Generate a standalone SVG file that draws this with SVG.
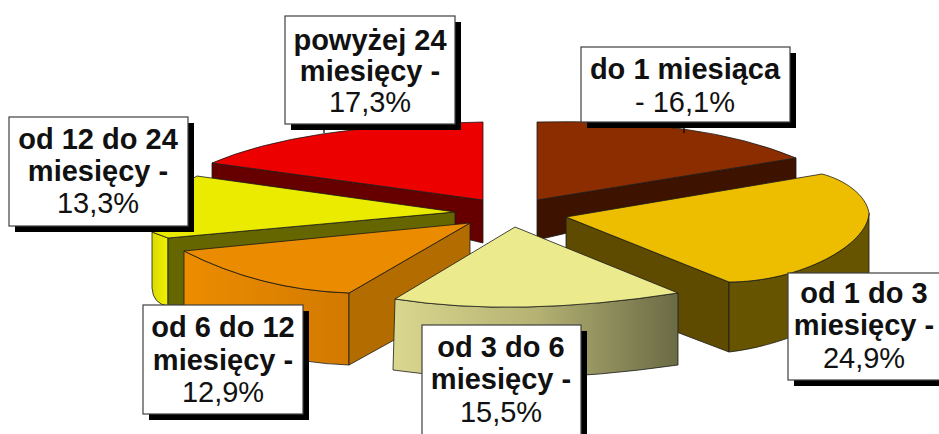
<svg xmlns="http://www.w3.org/2000/svg" width="939" height="434" viewBox="0 0 939 434">
<style>
.s{stroke:#1a1a1a;stroke-width:0.8;stroke-linejoin:round}
.box{fill:#fff;stroke:#404040;stroke-width:1.2}
.sh{fill:#000}
.b{font-family:"Liberation Sans",Arial,sans-serif;font-weight:bold;font-size:29px;fill:#111;text-anchor:middle}
.r{font-family:"Liberation Sans",Arial,sans-serif;font-size:29px;fill:#111;text-anchor:middle}
.lead{stroke:#000;stroke-width:1.2;fill:none}
</style>
<defs>
<linearGradient id="gLy" x1="393" y1="0" x2="678" y2="0" gradientUnits="userSpaceOnUse">
<stop offset="0" stop-color="#DAD78F"/><stop offset="0.5" stop-color="#B5B273"/><stop offset="1" stop-color="#6A6A45"/>
</linearGradient>
<linearGradient id="gOr" x1="184" y1="0" x2="349" y2="0" gradientUnits="userSpaceOnUse">
<stop offset="0" stop-color="#EC8D00"/><stop offset="1" stop-color="#D27900"/>
</linearGradient>
<linearGradient id="gYe" x1="152" y1="0" x2="168" y2="0" gradientUnits="userSpaceOnUse">
<stop offset="0" stop-color="#DADA00"/><stop offset="1" stop-color="#F2F200"/>
</linearGradient>
</defs>
<rect width="939" height="434" fill="#fff"/>

<g id="slice-powyzej-24">
<path class="s" d="M212,163 L483,200 L483,243 L212,178 Z" fill="#660000"/>
<path class="s" d="M483,200 L212,163 Q300,125 483,122 Z" fill="#EC0000"/>
</g>

<g id="slice-do-1">
<path class="s" d="M537,200 L796,158 L796,180 L537,240 Z" fill="#3D1300"/>
<path class="s" d="M537,200 L537,122 Q700,118 796,158 Z" fill="#8C2D00"/>
</g>

<g id="slice-12-24">
<path class="s" d="M152,232 L152,288 Q153,304 168,306 L168,238 Z" fill="url(#gYe)"/>
<path class="s" d="M168,238 L455,212 L455,290 L168,306 Z" fill="#666600"/>
<path class="s" d="M455,212 L197,176 Q160,195 152,232 L168,238 Z" fill="#EBEB00"/>
</g>

<g id="slice-1-3">
<path class="s" d="M566,217 L729,282 L729,352 L566,290 Z" fill="#5E4B00"/>
<path class="s" d="M729,282 C800,282 868,245 869,213 L869,272 C868,310 790,345 729,352 Z" fill="#675400"/>
<path class="s" d="M566,217 L822,174 C845,180 866,195 869,213 C868,245 800,282 729,282 Z" fill="#EDBE00"/>
</g>

<g id="slice-6-12">
<path class="s" d="M184,251 Q260,290 349,293 L349,365 Q260,362 184,320 Z" fill="url(#gOr)"/>
<path class="s" d="M349,293 L470,223 L470,298 L349,365 Z" fill="#B36C00"/>
<path class="s" d="M470,223 L184,251 Q260,290 349,293 Z" fill="#EB8C00"/>
</g>

<g id="slice-3-6">
<path class="s" d="M395,299 Q517,318 678,293 L678,365 Q517,388 393,370 Z" fill="url(#gLy)"/>
<path class="s" d="M515,227 L395,299 Q517,318 678,293 Z" fill="#EBEB8E"/>
</g>

<g id="connectors">
<line class="lead" x1="324" y1="124" x2="324" y2="133"/>
<line class="lead" x1="684" y1="122" x2="684" y2="133"/>
</g>

<g id="label-powyzej-24">
<rect class="sh" x="291" y="22" width="170" height="108"/>
<rect class="box" x="285" y="16" width="170" height="108"/>
<text class="b" x="370" y="50">powyżej 24</text>
<text class="b" x="370" y="81">miesięcy -</text>
<text class="r" x="370" y="112">17,3%</text>
</g>

<g id="label-do-1">
<rect class="sh" x="587" y="53" width="209" height="75"/>
<rect class="box" x="581" y="47" width="209" height="75"/>
<text class="b" x="685" y="79">do 1 miesiąca</text>
<text class="r" x="685" y="112">- 16,1%</text>
</g>

<g id="label-12-24">
<rect class="sh" x="15" y="123" width="179" height="109"/>
<rect class="box" x="9" y="117" width="179" height="109"/>
<text class="b" x="98" y="149">od 12 do 24</text>
<text class="b" x="98" y="181">miesięcy -</text>
<text class="r" x="98" y="213">13,3%</text>
</g>

<g id="label-6-12">
<rect class="sh" x="149" y="311" width="160" height="109"/>
<rect class="box" x="143" y="305" width="160" height="109"/>
<text class="b" x="223" y="337">od 6 do 12</text>
<text class="b" x="223" y="370">miesięcy -</text>
<text class="r" x="223" y="402">12,9%</text>
</g>

<g id="label-3-6">
<rect class="sh" x="428" y="331" width="159" height="120"/>
<rect class="box" x="422" y="325" width="159" height="120"/>
<text class="b" x="501" y="357">od 3 do 6</text>
<text class="b" x="501" y="389">miesięcy -</text>
<text class="r" x="501" y="422">15,5%</text>
</g>

<g id="label-1-3">
<rect class="sh" x="794" y="279" width="160" height="107"/>
<rect class="box" x="788" y="273" width="160" height="107"/>
<text class="b" x="864" y="303">od 1 do 3</text>
<text class="b" x="864" y="335">miesięcy -</text>
<text class="r" x="864" y="368">24,9%</text>
</g>
</svg>
